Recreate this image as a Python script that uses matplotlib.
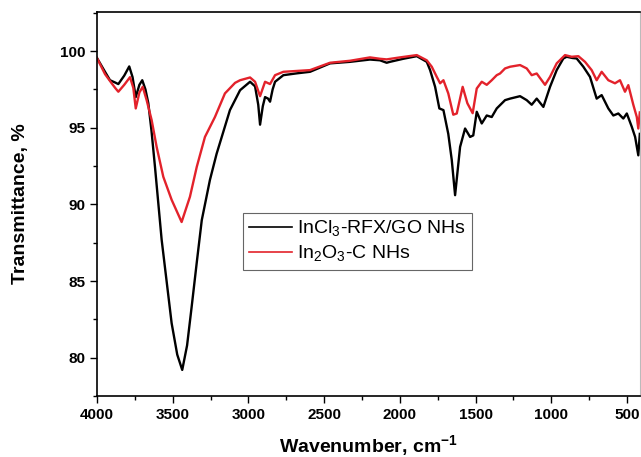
import numpy as np
import matplotlib.pyplot as plt
from matplotlib.ticker import MultipleLocator

plt.rcParams['font.family'] = ['Liberation Sans', 'DejaVu Sans']
plt.rcParams['mathtext.fontset'] = 'custom'
plt.rcParams['mathtext.rm'] = 'Liberation Sans'
plt.rcParams['mathtext.bf'] = 'Liberation Sans:bold'

# FTIR spectrum of InCl3-RFX/GO NHs
wn_black = [4000, 3947, 3914, 3880, 3859, 3820, 3787, 3765, 3744, 3720, 3701, 3680,
            3661, 3640, 3617, 3573, 3507, 3470, 3437, 3405, 3375, 3340, 3308, 3254,
            3210, 3176, 3122, 3055, 2989, 2956, 2935, 2923, 2905, 2890, 2870, 2857,
            2840, 2824, 2769, 2680, 2593, 2461, 2329, 2197, 2131, 2087, 2065, 1977,
            1888, 1822, 1800, 1767, 1739, 1712, 1680, 1657, 1635, 1602, 1569, 1536,
            1515, 1492, 1459, 1426, 1393, 1360, 1305, 1272, 1206, 1162, 1129, 1096,
            1052, 1008, 964, 920, 898, 860, 832, 788, 744, 700, 667, 623, 590, 557,
            524, 501, 468, 446, 425, 415]
tr_black = [99.55, 98.65, 98.1, 97.95, 97.85, 98.4, 99.0, 98.3, 97.0, 97.8, 98.1, 97.5,
            96.6, 94.8, 92.45, 87.7, 82.25, 80.2, 79.2, 80.8, 83.3, 86.3, 88.97, 91.6,
            93.3, 94.4, 96.15, 97.45, 98.0, 97.7, 96.5, 95.2, 96.4, 97.0, 96.9, 96.7,
            97.5, 98.0, 98.43, 98.55, 98.65, 99.2, 99.3, 99.45, 99.4, 99.24, 99.3, 99.5,
            99.67, 99.3, 98.76, 97.67, 96.26, 96.15, 94.6, 92.9, 90.6, 93.75, 94.95, 94.4,
            94.5, 96.04, 95.28, 95.8, 95.7, 96.26, 96.8, 96.9, 97.06, 96.8, 96.5, 96.9,
            96.36, 97.67, 98.76, 99.52, 99.63, 99.55, 99.52, 98.98, 98.32, 96.9, 97.13,
            96.26, 95.8, 95.93, 95.6, 95.93, 95.06, 94.4, 93.2, 94.6]

# FTIR spectrum of In2O3-C NHs
wn_red = [4000, 3947, 3903, 3880, 3859, 3820, 3782, 3760, 3744, 3720, 3698, 3672,
          3639, 3606, 3562, 3507, 3441, 3386, 3341, 3287, 3221, 3155, 3088, 3055,
          2989, 2956, 2923, 2890, 2857, 2824, 2769, 2593, 2461, 2329, 2197, 2131,
          2087, 1999, 1888, 1822, 1789, 1756, 1734, 1712, 1680, 1647, 1624, 1585,
          1554, 1519, 1492, 1459, 1426, 1393, 1360, 1338, 1305, 1272, 1206, 1162,
          1129, 1096, 1041, 1008, 964, 909, 865, 821, 777, 733, 700, 667, 623, 579,
          546, 513, 491, 458, 435, 425, 415]
tr_red = [99.55, 98.5, 97.9, 97.6, 97.35, 97.8, 98.3, 97.6, 96.26, 97.3, 97.67, 96.8,
          95.5, 93.75, 91.8, 90.3, 88.85, 90.5, 92.45, 94.4, 95.7, 97.24, 97.93, 98.1,
          98.28, 98.0, 97.06, 98.0, 97.85, 98.43, 98.65, 98.76, 99.24, 99.37, 99.59, 99.5,
          99.46, 99.59, 99.74, 99.4, 98.98, 98.32, 97.9, 98.1, 97.24, 95.85, 95.93, 97.67,
          96.6, 95.95, 97.56, 98.0, 97.8, 98.1, 98.43, 98.54, 98.87, 98.98, 99.09, 98.87,
          98.43, 98.54, 97.8, 98.32, 99.2, 99.74, 99.63, 99.67, 99.3, 98.76, 98.1, 98.65,
          98.1, 97.9, 98.1, 97.35, 97.78, 96.5, 95.7, 94.95, 96.0]

labels = ['InCl$_3$-RFX/GO NHs', 'In$_2$O$_3$-C NHs']

fig = plt.figure(figsize=(6.41, 4.57), dpi=100)
ax = fig.add_axes([0.1513, 0.1335, 0.8471, 0.8402])

ax.plot(wn_black, tr_black, color='black', lw=1.7, label=labels[0])
ax.plot(wn_red, tr_red, color='#e3222b', lw=1.7, label=labels[1])

ax.set_xlim(4000, 414)
ax.set_ylim(77.5, 102.55)
ax.xaxis.set_major_locator(MultipleLocator(500))
ax.xaxis.set_minor_locator(MultipleLocator(250))
ax.yaxis.set_major_locator(MultipleLocator(5))
ax.yaxis.set_minor_locator(MultipleLocator(2.5))
ax.tick_params(which='major', direction='out', length=5, width=1, labelsize=11)
ax.tick_params(which='minor', direction='out', length=3, width=1)
for lab in ax.get_xticklabels() + ax.get_yticklabels():
    lab.set_fontweight('bold')
for side in ['left', 'bottom', 'top']:
    ax.spines[side].set_linewidth(1.2)
ax.spines['right'].set_color('#bbbbbb')

ax.set_xlabel('Wavenumber, cm$^{\\mathbf{-1}}$', fontsize=14, fontweight='bold', labelpad=8)
ax.set_ylabel('Transmittance, %', fontsize=14, fontweight='bold', labelpad=22)

leg = ax.legend(loc='lower left', bbox_to_anchor=(0.269, 0.328), fontsize=14,
                frameon=True, fancybox=False, edgecolor='#666666', framealpha=1,
                handlelength=2.2, handletextpad=0.3, borderpad=0.3, labelspacing=0.25,
                borderaxespad=0)
leg.get_frame().set_linewidth(0.8)
for line in leg.get_lines():
    line.set_linewidth(1.2)

fig.savefig('out.png', dpi=100)
